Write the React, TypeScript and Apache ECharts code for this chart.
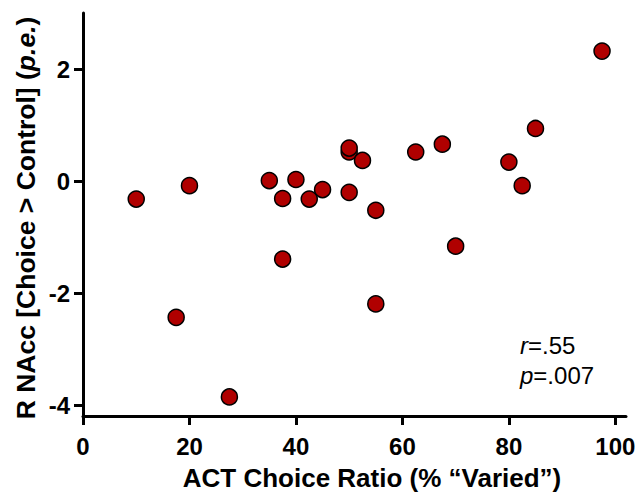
import React, { useEffect, useRef } from "react";
import * as echarts from "echarts";

const xValues = [10, 17.5, 20, 27.5, 35, 37.5, 37.5, 40, 42.5, 45, 50, 50, 50, 52.5, 55, 55, 62.5, 67.5, 70, 80, 82.5, 85, 97.5];
const yValues = [-0.32, -2.43, -0.08, -3.85, 0.01, -0.31, -1.39, 0.03, -0.32, -0.15, 0.52, 0.59, -0.2, 0.37, -0.52, -2.19, 0.52, 0.66, -1.16, 0.34, -0.08, 0.94, 2.32];
const xTicks = [0, 20, 40, 60, 80, 100];
const yTicks = [-4, -2, 0, 2];
const xTitle = "ACT Choice Ratio (% \u201CVaried\u201D)";
const yTitleMain = "R NAcc [Choice > Control] (";
const yTitleItalic = "p.e.";
const statR = ".55";
const statP = ".007";

const FONT = "'Liberation Sans', Arial, sans-serif";

export default function App() {
  const ref = useRef<HTMLDivElement>(null);
  useEffect(() => {
    if (!ref.current) return;
    const chart = echarts.init(ref.current, null, { renderer: "svg" });
    const data = xValues.map((x, i) => [x, yValues[i]]);
    const axisCommon = {
      axisLine: { show: true, onZero: false, lineStyle: { color: "#000", width: 3 } },
      axisTick: { show: true, length: 9, lineStyle: { color: "#000", width: 3 } },
      splitLine: { show: false },
    };
    chart.setOption({
      animation: false,
      backgroundColor: "#fff",
      grid: { left: 83, right: 18, top: 13, bottom: 79, containLabel: false },
      xAxis: {
        type: "value",
        min: 0,
        max: 102,
        ...axisCommon,
        axisTick: { ...axisCommon.axisTick, customValues: xTicks },
        axisLabel: {
          customValues: xTicks,
          color: "#000",
          fontFamily: FONT,
          fontWeight: "bold",
          fontSize: 24,
          margin: 18,
        },
      },
      yAxis: {
        type: "value",
        min: -4.19,
        max: 3.0,
        ...axisCommon,
        axisTick: { ...axisCommon.axisTick, customValues: yTicks },
        axisLabel: {
          customValues: yTicks,
          color: "#000",
          fontFamily: FONT,
          fontWeight: "bold",
          fontSize: 24,
          margin: 13,
        },
      },
      graphic: [
        {
          type: "text",
          x: 372,
          y: 478,
          style: {
            text: xTitle,
            font: `bold 26px ${FONT}`,
            fill: "#000",
            align: "center",
            verticalAlign: "middle",
          },
        },
        {
          type: "text",
          x: 26,
          y: 218,
          rotation: Math.PI / 2,
          style: {
            text: `${yTitleMain}{i|${yTitleItalic}})`,
            font: `bold 26.5px ${FONT}`,
            fill: "#000",
            align: "center",
            verticalAlign: "middle",
            rich: {
              i: { fontStyle: "italic", fontWeight: "bold", fontSize: 26.5, fontFamily: FONT, fill: "#000" },
            },
          },
        },
        {
          type: "text",
          x: 520,
          y: 345,
          style: {
            text: `{i|r}=${statR}`,
            font: `24px ${FONT}`,
            fill: "#000",
            align: "left",
            verticalAlign: "middle",
            rich: { i: { fontStyle: "italic", fontSize: 24, fontFamily: FONT, fill: "#000" } },
          },
        },
        {
          type: "text",
          x: 520,
          y: 375,
          style: {
            text: `{i|p}=${statP}`,
            font: `24px ${FONT}`,
            fill: "#000",
            align: "left",
            verticalAlign: "middle",
            rich: { i: { fontStyle: "italic", fontSize: 24, fontFamily: FONT, fill: "#000" } },
          },
        },
      ],
      series: [
        {
          type: "scatter",
          data,
          symbol: "circle",
          symbolSize: 16,
          itemStyle: { color: "#b00000", borderColor: "#000", borderWidth: 1.5, opacity: 1 },
        },
      ],
    });
    return () => chart.dispose();
  }, []);
  return <div ref={ref} style={{ width: 644, height: 495, position: "absolute", left: 0, top: 0 }} />;
}
